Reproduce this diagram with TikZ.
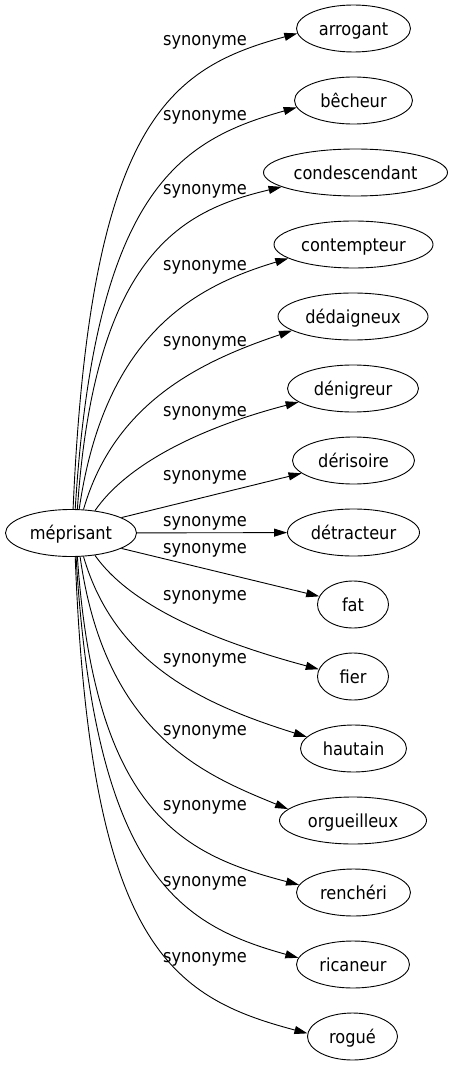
\documentclass[tikz,border=0pt]{standalone}
\usepackage{fontspec}
\setmainfont{DejaVu Sans}[FakeStretch=0.9]
\usetikzlibrary{shapes.geometric,arrows.meta}
\begin{document}
\begin{tikzpicture}[x=1pt,y=-1pt,
  every node/.style={font=\fontsize{18}{21}\selectfont},
  word/.style={ellipse,draw,line width=0.9pt,inner sep=0pt,minimum height=47pt,text height=13.5pt,text depth=0pt},
  lbl/.style={inner sep=0pt},
  syn/.style={draw,line width=0.9pt,-{Triangle[length=13pt,width=8pt]}}]
\useasboundingbox (0,0) rectangle (449,1067);
\node[word,minimum width=131pt] (m) at (71,533) {méprisant};
\node[word,minimum width=114pt] (t0) at (353.5,28.5) {arrogant};
\node[word,minimum width=118pt] (t1) at (353.5,100.5) {bêcheur};
\node[word,minimum width=184pt] (t2) at (355.5,172.5) {condescendant};
\node[word,minimum width=159pt] (t3) at (353.5,244.5) {contempteur};
\node[word,minimum width=150pt] (t4) at (353,316.5) {dédaigneux};
\node[word,minimum width=131pt] (t5) at (353,388.5) {dénigreur};
\node[word,minimum width=122pt] (t6) at (353.5,460.5) {dérisoire};
\node[word,minimum width=132pt] (t7) at (353.5,532.5) {détracteur};
\node[word,minimum width=71pt] (t8) at (353,604.5) {fat};
\node[word,minimum width=71pt] (t9) at (353,676.5) {fier};
\node[word,minimum width=106pt] (t10) at (353.5,748.5) {hautain};
\node[word,minimum width=147pt] (t11) at (353,820.5) {orgueilleux};
\node[word,minimum width=114pt] (t12) at (353.5,892.5) {renchéri};
\node[word,minimum width=113pt] (t13) at (353,964.5) {ricaneur};
\node[word,minimum width=90pt] (t14) at (352.5,1036.5) {rogué};

\node[lbl] (l0) at (205,42) {synonyme};
\node[lbl] (l1) at (205,117) {synonyme};
\node[lbl] (l2) at (205,191) {synonyme};
\node[lbl] (l3) at (205,267) {synonyme};
\node[lbl] (l4) at (205,343) {synonyme};
\node[lbl] (l5) at (205,413) {synonyme};
\node[lbl] (l6) at (205,477) {synonyme};
\node[lbl] (l7) at (205,523) {synonyme};
\node[lbl] (l8) at (205,550) {synonyme};
\node[lbl] (l9) at (205,597) {synonyme};
\node[lbl] (l10) at (205,660) {synonyme};
\node[lbl] (l11) at (205,732) {synonyme};
\node[lbl] (l12) at (205,807) {synonyme};
\node[lbl] (l13) at (205,883) {synonyme};
\node[lbl] (l14) at (205,959) {synonyme};

\draw[syn] (m.85) .. controls (90,120) and (170,68) .. (t0.185);
\draw[syn] (m.80) .. controls (95,190) and (180,140) .. (t1.187);
\draw[syn] (m.75) .. controls (95,250) and (185,210) .. (t2.191);
\draw[syn] (m.71) .. controls (105,330) and (200,285) .. (t3.192);
\draw[syn] (m.62) .. controls (115,400) and (205,360) .. (t4.193);
\draw[syn] (m.43) .. controls (130,460) and (210,425) .. (t5.194);
\draw[syn] (m.17) -- (t6);
\draw[syn] (m) -- (t7);
\draw[syn] (m.343) -- (t8);
\draw[syn] (m.317) .. controls (130,605) and (210,640) .. (t9.168);
\draw[syn] (m.298) .. controls (115,665) and (205,705) .. (t10.166);
\draw[syn] (m.291) .. controls (105,735) and (205,775) .. (t11.170);
\draw[syn] (m.285) .. controls (95,815) and (185,855) .. (t12.172);
\draw[syn] (m.282) .. controls (95,875) and (180,925) .. (t13.173);
\draw[syn] (m.280) .. controls (90,945) and (170,997) .. (t14.176);
\end{tikzpicture}
\end{document}
